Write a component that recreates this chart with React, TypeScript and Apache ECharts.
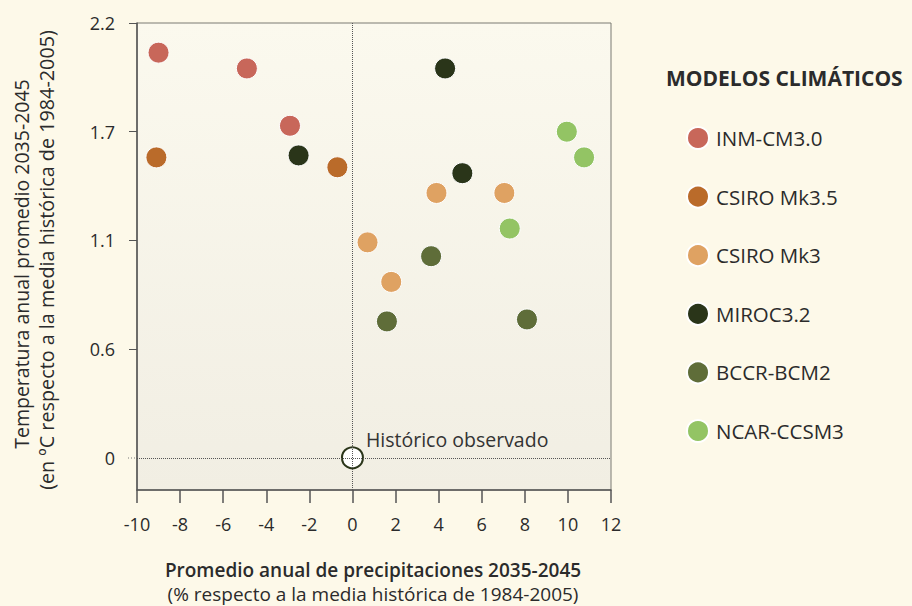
import React, { useEffect, useRef } from "react";
import * as echarts from "echarts";

const modelNames = ["INM-CM3.0", "CSIRO Mk3.5", "CSIRO Mk3", "MIROC3.2", "BCCR-BCM2", "NCAR-CCSM3"];
const modelColors = ["#c8675a", "#ba6b2a", "#dfa262", "#2a3519", "#5f6d39", "#93c464"];

const inmCm30: [number, number][] = [[-9.0, 2.05], [-4.9, 1.97], [-2.9, 1.68]];
const csiroMk35: [number, number][] = [[-9.1, 1.52], [-0.7, 1.47]];
const csiroMk3: [number, number][] = [[0.7, 1.09], [1.8, 0.89], [3.9, 1.34], [7.05, 1.34]];
const miroc32: [number, number][] = [[-2.5, 1.53], [4.3, 1.97], [5.1, 1.44]];
const bccrBcm2: [number, number][] = [[1.6, 0.69], [3.65, 1.02], [8.1, 0.70]];
const ncarCcsm3: [number, number][] = [[7.3, 1.16], [9.95, 1.65], [10.75, 1.52]];
const modelData = [inmCm30, csiroMk35, csiroMk3, miroc32, bccrBcm2, ncarCcsm3];

const historic: [number, number][] = [[0, 0]];
const historicLabel = "Histórico observado";

const yTickValues = [0, 0.55, 1.1, 1.65, 2.2];
const yTickLabels = ["0", "0.6", "1.1", "1.7", "2.2"];
const xTickLabels = ["-10", "-8", "-6", "-4", "-2", "0", "2", "4", "6", "8", "10", "12"];

const xName1 = "Promedio anual de precipitaciones 2035-2045";
const xName2 = "(% respecto a la media histórica de 1984-2005)";
const yName1 = "Temperatura anual promedio 2035-2045";
const yName2 = "(en ºC respecto a la media histórica de 1984-2005)";
const legendTitle = "MODELOS CLIMÁTICOS";

const FONT = "'Open Sans', sans-serif";
const TEXT = "#2b2b2b";

export default function App() {
  const ref = useRef<HTMLDivElement>(null);
  useEffect(() => {
    if (!ref.current) return;
    const chart = echarts.init(ref.current, null, { renderer: "svg" });
    const series: any[] = modelNames.map((name, i) => ({
      name,
      type: "scatter",
      data: modelData[i],
      symbolSize: 21,
      itemStyle: { color: modelColors[i], borderColor: "#ffffff", borderWidth: 1, opacity: 1 },
      z: 3,
    }));
    series.push({
      name: "historic",
      type: "scatter",
      data: historic,
      symbolSize: 21,
      itemStyle: { color: "#ffffff", borderColor: "#2a3519", borderWidth: 2, opacity: 1 },
      label: {
        show: true,
        position: "right",
        distance: 2,
        offset: [0, -18],
        formatter: historicLabel,
        fontFamily: FONT,
        fontSize: 19.5,
        color: "#333333",
      },
      z: 4,
      markLine: {
        silent: true,
        symbol: "none",
        label: { show: false },
        lineStyle: { type: "dotted", color: "#555555", width: 1 },
        data: [[{ coord: [0, -0.163] }, { coord: [0, 2.2] }], [{ coord: [-10, 0] }, { coord: [12, 0] }]],
      },
    });
    chart.setOption({
      animation: false,
      backgroundColor: "#fdf9e9",
      textStyle: { fontFamily: FONT },
      title: {
        text: legendTitle,
        left: 666,
        top: 64,
        padding: 0,
        textStyle: { fontFamily: FONT, fontSize: 21, fontWeight: "bold", color: TEXT, lineHeight: 28 },
      },
      legend: {
        data: modelNames,
        orient: "vertical",
        left: 686,
        top: 126,
        padding: 0,
        itemWidth: 22,
        itemHeight: 22,
        itemGap: 34.6,
        icon: "circle",
        textStyle: { fontFamily: FONT, fontSize: 20.5, color: TEXT, lineHeight: 22, padding: [0, 0, 0, 2] },
      },
      grid: {
        left: 137,
        right: 301,
        top: 23,
        bottom: 116,
        show: true,
        borderColor: "#7a7a72",
        borderWidth: 1,
        backgroundColor: {
          type: "linear",
          x: 0,
          y: 0,
          x2: 0,
          y2: 1,
          colorStops: [
            { offset: 0, color: "#fbf9ee" },
            { offset: 1, color: "#f1eee3" },
          ],
        },
      },
      xAxis: {
        type: "value",
        min: -10,
        max: 12,
        interval: 2,
        axisLine: { show: true, onZero: false, lineStyle: { color: "#555555", width: 1.5 } },
        axisTick: { show: true, length: 13, lineStyle: { color: "#555555", width: 1.5 } },
        splitLine: { show: false },
        axisLabel: {
          margin: 25,
          fontFamily: FONT,
          fontSize: 18,
          color: TEXT,
          formatter: (v: number) => xTickLabels[Math.round((v + 10) / 2)] ?? String(v),
        },
      },
      yAxis: {
        type: "value",
        min: -0.163,
        max: 2.2,
        axisLine: { show: true, onZero: false, lineStyle: { color: "#555555", width: 1.5 } },
        axisTick: {
          show: true,
          length: 8,
          customValues: yTickValues.slice(1),
          lineStyle: { color: "#555555", width: 1 },
        },
        splitLine: { show: false },
        axisLabel: {
          margin: 22,
          fontFamily: FONT,
          fontSize: 18,
          color: TEXT,
          customValues: yTickValues,
          formatter: (v: number) => {
            const i = yTickValues.findIndex((t) => Math.abs(t - v) < 1e-6);
            return i >= 0 ? yTickLabels[i] : "";
          },
        },
      },
      graphic: [
        {
          type: "text",
          x: 21,
          y: 264,
          rotation: Math.PI / 2,
          style: { text: yName1, fontFamily: FONT, fontSize: 19.5, fill: TEXT, textAlign: "center", textVerticalAlign: "middle", fontWeight: 500 },
        },
        {
          type: "text",
          x: 46,
          y: 260,
          rotation: Math.PI / 2,
          style: { text: yName2, fontFamily: FONT, fontSize: 19.8, fill: TEXT, textAlign: "center", textVerticalAlign: "middle" },
        },
        {
          type: "text",
          x: 373,
          y: 582,
          style: {
            text: "{a|" + xName1 + "}\n{b|" + xName2 + "}",
            fontFamily: FONT,
            fontSize: 19,
            fill: TEXT,
            textAlign: "center",
            textVerticalAlign: "middle",
            rich: {
              a: { fontFamily: FONT, fontSize: 19, fontWeight: 600, fill: TEXT, lineHeight: 24, align: "center" },
              b: { fontFamily: FONT, fontSize: 19, fill: TEXT, lineHeight: 24, align: "center" },
            },
          },
        },
        {
          type: "line",
          shape: { x1: 128, y1: 458, x2: 137, y2: 458 },
          style: { stroke: "#777777", lineDash: [1, 2], lineWidth: 1 },
        },
      ],
      series,
    });
    return () => chart.dispose();
  }, []);
  return <div ref={ref} style={{ width: 912, height: 606, position: "absolute", left: 0, top: 0 }} />;
}
